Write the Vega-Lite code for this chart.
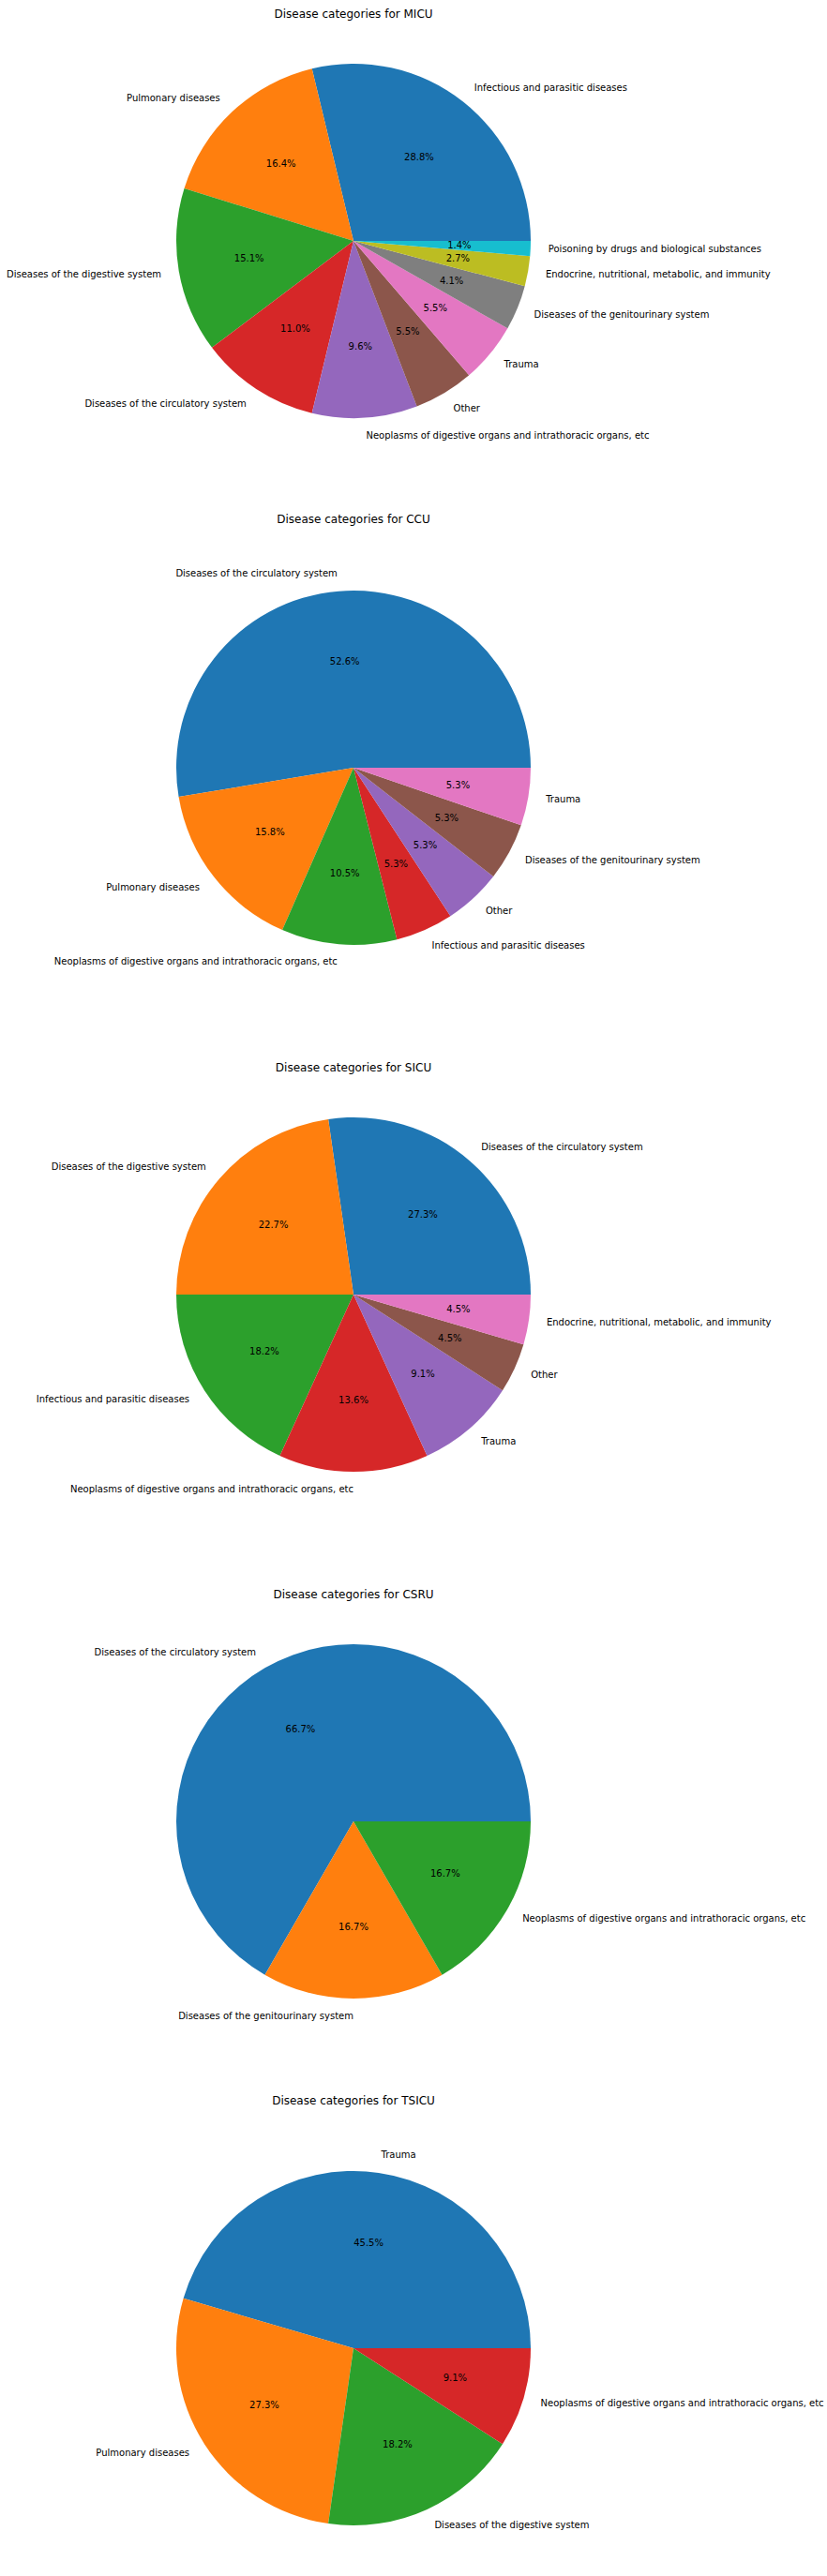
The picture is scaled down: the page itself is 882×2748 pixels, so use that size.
{
  "$schema": "https://vega.github.io/schema/vega-lite/v6.json",
  "padding": {"top": 9, "left": 0, "right": 0, "bottom": 0},
  "background": "white",
  "config": {"font": "DejaVu Sans", "view": {"stroke": null}},
  "data": {
    "values": [
      {"icu": "MICU", "order": 1, "category": "Infectious and parasitic diseases", "value": 21},
      {"icu": "MICU", "order": 2, "category": "Pulmonary diseases", "value": 12},
      {"icu": "MICU", "order": 3, "category": "Diseases of the digestive system", "value": 11},
      {"icu": "MICU", "order": 4, "category": "Diseases of the circulatory system", "value": 8},
      {"icu": "MICU", "order": 5, "category": "Neoplasms of digestive organs and intrathoracic organs, etc", "value": 7},
      {"icu": "MICU", "order": 6, "category": "Other", "value": 4},
      {"icu": "MICU", "order": 7, "category": "Trauma", "value": 4},
      {"icu": "MICU", "order": 8, "category": "Diseases of the genitourinary system", "value": 3},
      {"icu": "MICU", "order": 9, "category": "Endocrine, nutritional, metabolic, and immunity", "value": 2},
      {"icu": "MICU", "order": 10, "category": "Poisoning by drugs and biological substances", "value": 1},
      {"icu": "CCU", "order": 1, "category": "Diseases of the circulatory system", "value": 10},
      {"icu": "CCU", "order": 2, "category": "Pulmonary diseases", "value": 3},
      {"icu": "CCU", "order": 3, "category": "Neoplasms of digestive organs and intrathoracic organs, etc", "value": 2},
      {"icu": "CCU", "order": 4, "category": "Infectious and parasitic diseases", "value": 1},
      {"icu": "CCU", "order": 5, "category": "Other", "value": 1},
      {"icu": "CCU", "order": 6, "category": "Diseases of the genitourinary system", "value": 1},
      {"icu": "CCU", "order": 7, "category": "Trauma", "value": 1},
      {"icu": "SICU", "order": 1, "category": "Diseases of the circulatory system", "value": 6},
      {"icu": "SICU", "order": 2, "category": "Diseases of the digestive system", "value": 5},
      {"icu": "SICU", "order": 3, "category": "Infectious and parasitic diseases", "value": 4},
      {"icu": "SICU", "order": 4, "category": "Neoplasms of digestive organs and intrathoracic organs, etc", "value": 3},
      {"icu": "SICU", "order": 5, "category": "Trauma", "value": 2},
      {"icu": "SICU", "order": 6, "category": "Other", "value": 1},
      {"icu": "SICU", "order": 7, "category": "Endocrine, nutritional, metabolic, and immunity", "value": 1},
      {"icu": "CSRU", "order": 1, "category": "Diseases of the circulatory system", "value": 4},
      {"icu": "CSRU", "order": 2, "category": "Diseases of the genitourinary system", "value": 1},
      {"icu": "CSRU", "order": 3, "category": "Neoplasms of digestive organs and intrathoracic organs, etc", "value": 1},
      {"icu": "TSICU", "order": 1, "category": "Trauma", "value": 5},
      {"icu": "TSICU", "order": 2, "category": "Pulmonary diseases", "value": 3},
      {"icu": "TSICU", "order": 3, "category": "Diseases of the digestive system", "value": 2},
      {"icu": "TSICU", "order": 4, "category": "Neoplasms of digestive organs and intrathoracic organs, etc", "value": 1}
    ]
  },
  "transform": [
    {"joinaggregate": [{"op": "sum", "field": "value", "as": "total"}], "groupby": ["icu"]},
    {"window": [{"op": "sum", "field": "value", "as": "cum"}], "sort": [{"field": "order"}], "groupby": ["icu"], "frame": [null, 0]},
    {"calculate": "(datum.cum - datum.value / 2) / datum.total", "as": "mid"},
    {"calculate": "datum.value / datum.total", "as": "pct"}
  ],
  "facet": {
    "row": {
      "field": "icu",
      "type": "nominal",
      "sort": ["MICU", "CCU", "SICU", "CSRU", "TSICU"],
      "title": null,
      "header": {
        "labelOrient": "top",
        "labelExpr": "'Disease categories for ' + datum.value",
        "labelFontSize": 12,
        "labelFont": "DejaVu Sans",
        "labelColor": "black",
        "labelPadding": 46
      }
    }
  },
  "spacing": 77,
  "spec": {
    "width": 754,
    "height": 378,
    "encoding": {
      "color": {
        "field": "order",
        "type": "nominal",
        "legend": null,
        "scale": {
          "domain": [1, 2, 3, 4, 5, 6, 7, 8, 9, 10],
          "range": ["#1f77b4", "#ff7f0e", "#2ca02c", "#d62728", "#9467bd", "#8c564b", "#e377c2", "#7f7f7f", "#bcbd22", "#17becf"]
        }
      }
    },
    "layer": [
      {
        "mark": {"type": "arc", "outerRadius": 189},
        "encoding": {
          "theta": {"field": "value", "type": "quantitative", "stack": "normalize", "scale": {"domain": [0, 1], "range": [1.5708, -4.7124]}},
          "order": {"field": "order"}
        }
      },
      {
        "mark": {"type": "text", "radius": 113, "fontSize": 10, "color": "black"},
        "encoding": {
          "theta": {"field": "mid", "type": "quantitative", "stack": null},
          "text": {"field": "pct", "type": "quantitative", "format": ".1%"},
          "color": {"value": "black"}
        }
      },
      {
        "transform": [{"filter": "datum.mid < 0.25 || datum.mid > 0.75"}],
        "mark": {"type": "text", "radius": 208, "fontSize": 10, "align": "left", "baseline": "middle"},
        "encoding": {
          "theta": {"field": "mid", "type": "quantitative", "stack": null},
          "text": {"field": "category"},
          "color": {"value": "black"}
        }
      },
      {
        "transform": [{"filter": "datum.mid >= 0.25 && datum.mid <= 0.75"}],
        "mark": {"type": "text", "radius": 208, "fontSize": 10, "align": "right", "baseline": "middle"},
        "encoding": {
          "theta": {"field": "mid", "type": "quantitative", "stack": null},
          "text": {"field": "category"},
          "color": {"value": "black"}
        }
      }
    ]
  }
}
